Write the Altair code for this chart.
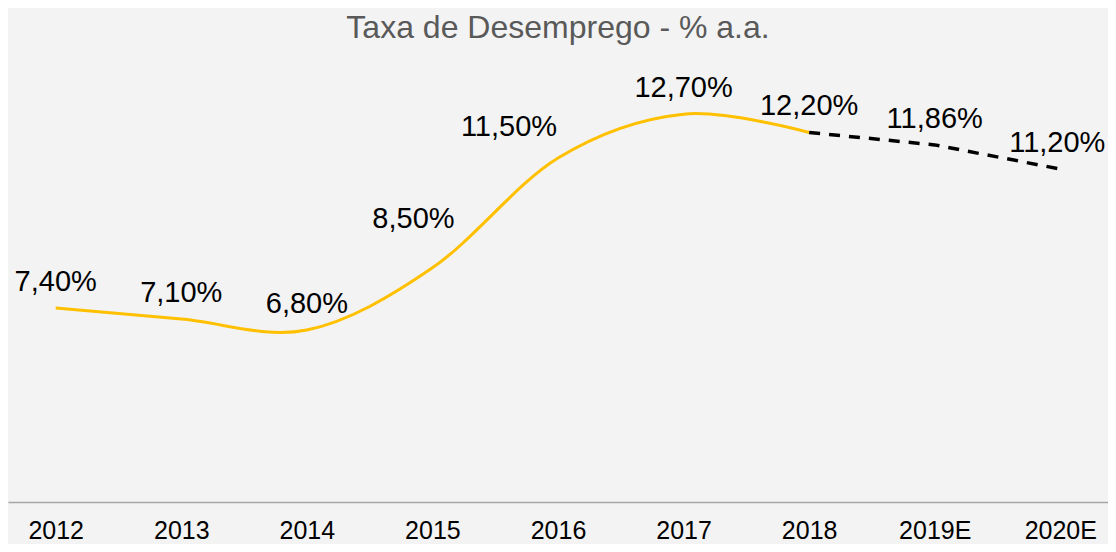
import altair as alt
import pandas as pd

years = ["2012", "2013", "2014", "2015", "2016", "2017", "2018", "2019E", "2020E"]
values = [7.40, 7.10, 6.80, 8.50, 11.50, 12.70, 12.20, 11.86, 11.20]
labels = [f"{v:.2f}".replace(".", ",") + "%" for v in values]

actual_years = years[:7]
proj_years = years[6:]

df = pd.DataFrame({"year": years, "value": values, "label": labels})
df_actual = df[df["year"].isin(actual_years)]
df_proj = df[df["year"].isin(proj_years)]

FONT = "Liberation Sans Narrow, Arial Narrow, Liberation Sans, Arial, sans-serif"

x_enc = alt.X(
    "year:N",
    sort=years,
    scale=alt.Scale(type="point", padding=0.38),
    axis=alt.Axis(
        title=None,
        labelAngle=0,
        labelFont=FONT,
        labelFontSize=25,
        labelColor="#000000",
        labelBaseline="alphabetic",
        labelPadding=36,
        ticks=False,
        tickSize=0,
        grid=False,
        domainColor="#A6A6A6",
        domainWidth=1.5,
    ),
)
y_enc = alt.Y(
    "value:Q",
    scale=alt.Scale(domain=[2.1, 14.18], zero=False, nice=False),
    axis=None,
)

line_actual = alt.Chart(df_actual).mark_line(
    color="#FFC000", strokeWidth=3, interpolate="cardinal"
).encode(x=x_enc, y=y_enc)

line_proj = alt.Chart(df_proj).mark_line(
    color="#000000", strokeWidth=3.5, strokeDash=[11, 9]
).encode(x=x_enc, y=y_enc)

text_props = dict(font=FONT, fontSize=29, color="#000000", baseline="alphabetic", align="center")

special = ["2015", "2016", "2020E"]

labels_main = alt.Chart(df).transform_filter(
    alt.FieldOneOfPredicate(field="year", oneOf=special).__invert__()
).mark_text(dy=-17, **text_props).encode(x=x_enc, y=y_enc, text="label:N")

label_2015 = alt.Chart(df).transform_filter("datum.year == '2015'").mark_text(
    dx=-19, dy=-40, **text_props
).encode(x=x_enc, y=y_enc, text="label:N")

label_2016 = alt.Chart(df).transform_filter("datum.year == '2016'").mark_text(
    dx=-49, dy=-22, **text_props
).encode(x=x_enc, y=y_enc, text="label:N")

label_2020 = alt.Chart(df).transform_filter("datum.year == '2020E'").mark_text(
    dx=-3, dy=-17, **text_props
).encode(x=x_enc, y=y_enc, text="label:N")

chart = (
    alt.layer(line_actual, line_proj, labels_main, label_2015, label_2016, label_2020)
    .properties(
        width=1100,
        height=442,
        autosize=alt.AutoSizeParams(type="none"),
        padding={"left": 0, "right": 0, "top": 52, "bottom": 42},
        background="#F3F3F3",
        title=alt.TitleParams(
            "Taxa de Desemprego - % a.a.",
            font="Liberation Sans, Arial, sans-serif",
            fontSize=32,
            fontWeight="normal",
            color="#595959",
            anchor="middle",
            frame="group",
            offset=15,
        ),
    )
    .configure_view(stroke=None)
)

chart.save("out.html", embed_options={"renderer": "svg", "actions": False})
